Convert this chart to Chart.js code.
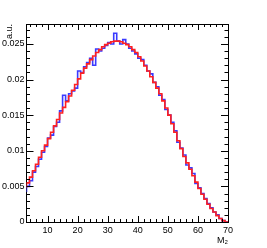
<!DOCTYPE html>
<html><head><meta charset="utf-8">
<script src="https://cdn.jsdelivr.net/npm/chart.js@4/dist/chart.umd.min.js"></script>
<style>html,body{margin:0;padding:0;background:#fff}#wrap{width:267px;height:248px}</style>
</head><body><div id="wrap"><canvas id="c" width="267" height="248"></canvas></div>
<script>
// bin low edges (width 1), x range 3..70
const binEdges = [3,4,5,6,7,8,9,10,11,12,13,14,15,16,17,18,19,20,21,22,23,24,25,26,27,28,29,30,31,32,33,34,35,36,37,38,39,40,41,42,43,44,45,46,47,48,49,50,51,52,53,54,55,56,57,58,59,60,61,62,63,64,65,66,67,68,69,70];
const redValues = [0.0048,0.0055,0.0063,0.0072,0.0081,0.0091,0.0100,0.0108,0.0117,0.0126,0.0135,0.0144,0.0153,0.0161,0.0169,0.0177,0.0185,0.0193,0.0201,0.0209,0.0216,0.0222,0.0228,0.0233,0.0238,0.0242,0.0246,0.0249,0.0251,0.0253,0.0254,0.0254,0.0253,0.0251,0.0249,0.0246,0.0242,0.0238,0.0232,0.0226,0.0219,0.0212,0.0204,0.0196,0.0188,0.0180,0.0170,0.0160,0.0150,0.0138,0.0126,0.0114,0.0103,0.0092,0.0083,0.0074,0.0065,0.0056,0.0047,0.0039,0.0032,0.0025,0.0019,0.0014,0.0009,0.0005,0.0002];
const blueValues = [0.0042,0.0050,0.0058,0.0070,0.0078,0.0088,0.0098,0.0106,0.0118,0.0122,0.0134,0.0140,0.0156,0.0178,0.0170,0.0180,0.0184,0.0188,0.0212,0.0210,0.0218,0.0224,0.0230,0.0220,0.0243,0.0240,0.0244,0.0248,0.0252,0.0250,0.0265,0.0254,0.0250,0.0256,0.0250,0.0244,0.0240,0.0236,0.0230,0.0228,0.0220,0.0212,0.0208,0.0196,0.0190,0.0178,0.0172,0.0158,0.0150,0.0140,0.0128,0.0112,0.0104,0.0094,0.0080,0.0076,0.0068,0.0054,0.0048,0.0040,0.0033,0.0026,0.0020,0.0014,0.0010,0.0005,0.0002];
const xTickLabels = [10,20,30,40,50,60,70];
const yTickLabels = ["0","0.005","0.01","0.015","0.02","0.025"];
const yTickValues = [0,0.005,0.01,0.015,0.02,0.025];
const xTitle = "M\u2082";
const yTitle = "a.u.";

function stepPoints(vals){
  const pts = vals.map((v,i)=>({x:binEdges[i],y:v}));
  pts.push({x:binEdges[vals.length], y:0});
  return pts;
}

const tickPlugin = {
  id:'rootTicks',
  afterDraw(chart){
    const {ctx, chartArea:a, scales:{x,y}} = chart;
    ctx.save();
    ctx.strokeStyle='#000'; ctx.lineWidth=1;
    ctx.beginPath();
    for(let v=4; v<=70; v+=2){
      const px = Math.round(x.getPixelForValue(v))+0.5;
      const len = (v%10===0)?6:3;
      ctx.moveTo(px,a.bottom); ctx.lineTo(px,a.bottom-len);
      ctx.moveTo(px,a.top); ctx.lineTo(px,a.top+len);
    }
    for(let k=0;k<=27;k++){
      const v=k*0.001;
      const py = Math.round(y.getPixelForValue(v))+0.5;
      const len = (k%5===0)?7:3.5;
      ctx.moveTo(a.left,py); ctx.lineTo(a.left+len,py);
      ctx.moveTo(a.right,py); ctx.lineTo(a.right-len,py);
    }
    ctx.stroke();
    ctx.restore();
  }
};

const font9 = {family:'"Liberation Sans", Arial, sans-serif',size:9};

new Chart(document.getElementById('c'),{
  type:'line',
  data:{datasets:[
    {label:'red',data:stepPoints(redValues),stepped:'after',borderColor:'#ff2020',borderWidth:1.6,pointRadius:0,fill:false,order:0},
    {label:'blue',data:stepPoints(blueValues),stepped:'after',borderColor:'#3a3aff',borderWidth:1.6,pointRadius:0,fill:false,order:1}
  ]},
  options:{
    responsive:false, animation:false, devicePixelRatio:1,
    layout:{padding:{top:24,right:39,left:0,bottom:0}},
    plugins:{legend:{display:false},tooltip:{enabled:false}},
    scales:{
      x:{type:'linear',min:3,max:70,
        afterFit(s){s.height=26;},
        afterBuildTicks(s){s.ticks=xTickLabels.map(v=>({value:v}));},
        grid:{display:false,drawTicks:false},
        border:{display:true,color:'#000',width:1},
        title:{display:true,text:xTitle,align:'end',color:'#000',font:font9,padding:{top:0,bottom:2}},
        ticks:{color:'#000',font:font9,padding:3,maxRotation:0,autoSkip:false}
      },
      y:{type:'linear',min:0,max:0.0278,
        afterFit(s){s.width=26.5;},
        afterBuildTicks(s){s.ticks=yTickValues.map(v=>({value:v}));},
        grid:{display:false,drawTicks:false},
        border:{display:true,color:'#000',width:1},
        title:{display:true,text:yTitle,align:'end',color:'#000',font:font9,padding:{top:4,bottom:0}},
        ticks:{color:'#000',font:font9,padding:2,autoSkip:false,
          callback:(v,i)=>yTickLabels[i]}
      },
      x2:{type:'linear',position:'top',min:3,max:70,display:true,afterFit(s){s.height=0;},
        grid:{display:false,drawTicks:false},border:{display:true,color:'#000',width:1},ticks:{display:false}},
      y2:{type:'linear',position:'right',min:0,max:0.0278,display:true,afterFit(s){s.width=0;},
        grid:{display:false,drawTicks:false},border:{display:true,color:'#000',width:1},ticks:{display:false}}
    }
  },
  plugins:[tickPlugin]
});
</script></body></html>
